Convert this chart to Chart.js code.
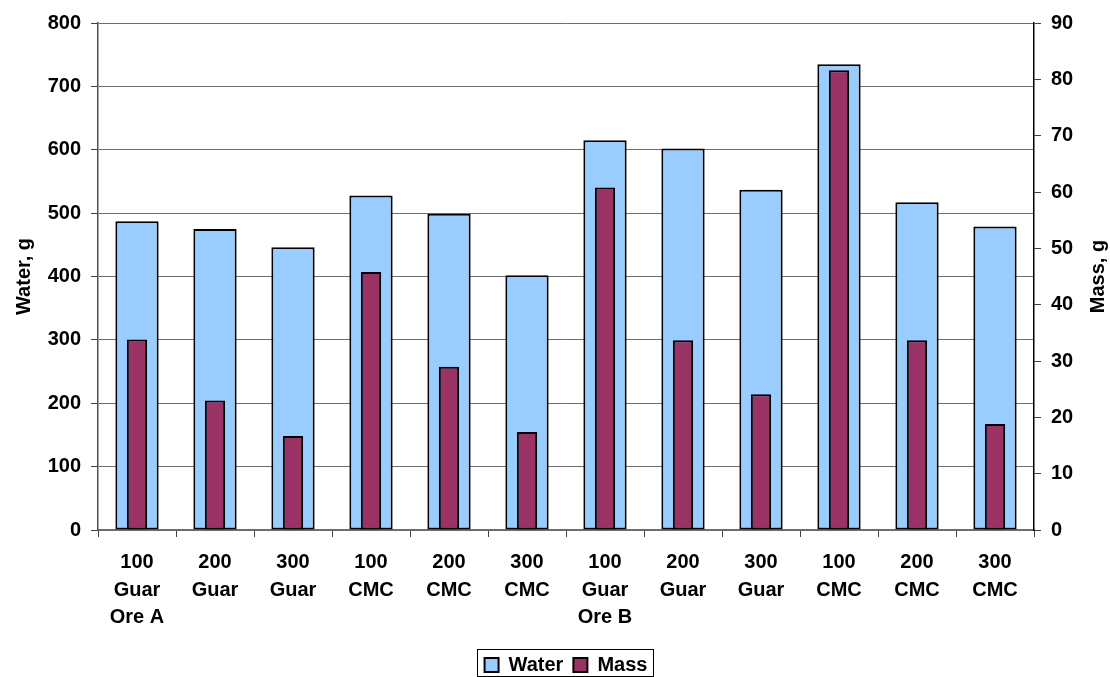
<!DOCTYPE html>
<html>
<head>
<meta charset="utf-8">
<title>Water and Mass</title>
<script src="https://cdn.jsdelivr.net/npm/chart.js@4/dist/chart.umd.min.js"></script>
<style>
  html, body { margin: 0; padding: 0; background: #ffffff; }
  canvas { display: block; }
</style>
</head>
<body>
<canvas id="chart" width="1110" height="677"></canvas>
<script>
// Category labels (one array entry per line of the label)
const categories = [
  ["100", "Guar", "Ore A"], ["200", "Guar"], ["300", "Guar"],
  ["100", "CMC"], ["200", "CMC"], ["300", "CMC"],
  ["100", "Guar", "Ore B"], ["200", "Guar"], ["300", "Guar"],
  ["100", "CMC"], ["200", "CMC"], ["300", "CMC"]
];

// Series values
const waterValues = [487, 475, 446, 528, 499, 402, 615, 602, 537, 735, 517, 479];
const massValues  = [33.8, 23.0, 16.7, 45.8, 29.0, 17.4, 60.8, 33.7, 24.1, 81.6, 33.7, 18.8];

// Axis ranges and tick steps
const waterAxis = [0, 800, 100];
const massAxis  = [0, 90, 10];

// Axis titles
const waterTitle = "Water, g";
const massTitle  = "Mass, g";

const FONT = "'Liberation Sans', Arial, Helvetica, sans-serif";

// Frames the legend and writes the right-hand axis title (reading upward)
const decorations = {
  id: 'decorations',
  afterDraw(chart) {
    const ctx = chart.ctx;
    const boxes = chart.legend && chart.legend.legendHitBoxes;
    if (boxes && boxes.length) {
      const first = boxes[0];
      const last = boxes[boxes.length - 1];
      const x0 = Math.round(first.left) - 7.5;
      const x1 = Math.round(last.left + last.width) + 6.5;
      const cy = first.top + first.height / 2;
      ctx.save();
      ctx.strokeStyle = '#000000';
      ctx.lineWidth = 1;
      ctx.strokeRect(x0, Math.round(cy - 16) + 0.5, x1 - x0, 27);
      ctx.restore();
    }
    ctx.save();
    ctx.translate(1098, (chart.chartArea.top + chart.chartArea.bottom) / 2);
    ctx.rotate(-Math.PI / 2);
    ctx.font = "bold 20px " + FONT;
    ctx.fillStyle = '#000000';
    ctx.textAlign = 'center';
    ctx.textBaseline = 'middle';
    ctx.fillText(massTitle, 0, 0);
    ctx.restore();
  }
};

new Chart(document.getElementById('chart'), {
  type: 'bar',
  data: {
    labels: categories,
    datasets: [
      {
        label: 'Water',
        data: waterValues,
        yAxisID: 'y',
        backgroundColor: '#99CCFF',
        borderColor: '#000000',
        borderWidth: 2,
        borderSkipped: false,
        grouped: false,
        barPercentage: 0.555,
        categoryPercentage: 1,
        order: 1
      },
      {
        label: 'Mass',
        data: massValues,
        yAxisID: 'y1',
        backgroundColor: '#993366',
        borderColor: '#000000',
        borderWidth: 2,
        borderSkipped: false,
        grouped: false,
        barPercentage: 0.26,
        categoryPercentage: 1,
        order: 0
      }
    ]
  },
  options: {
    responsive: false,
    animation: false,
    devicePixelRatio: 1,
    layout: { padding: { top: 23, left: 0, right: 0, bottom: -8 } },
    plugins: {
      tooltip: { enabled: false },
      legend: {
        position: 'bottom',
        fullSize: false,
        reverse: true,
        labels: {
          color: '#000000',
          font: { family: FONT, size: 20, weight: 'bold' },
          boxWidth: 14,
          boxHeight: 14,
          padding: 10
        }
      }
    },
    scales: {
      x: {
        offset: true,
        grid: {
          offset: true,
          drawOnChartArea: false,
          drawTicks: true,
          tickLength: 7,
          tickColor: '#404040',
          tickWidth: 1
        },
        border: { display: true, color: '#6e6e6e', width: 1.5 },
        ticks: {
          color: '#000000',
          padding: 12,
          maxRotation: 0,
          autoSkip: false,
          font: { family: FONT, size: 20, weight: 'bold', lineHeight: 1.375 }
        },
        afterFit(scale) { scale.height = 115; }
      },
      y: {
        position: 'left',
        min: waterAxis[0],
        max: waterAxis[1],
        ticks: {
          stepSize: waterAxis[2],
          color: '#000000',
          padding: 10,
          font: { family: FONT, size: 20, weight: 'bold' }
        },
        grid: {
          color: '#6e6e6e',
          lineWidth: 1,
          drawTicks: true,
          tickLength: 7,
          tickColor: '#404040'
        },
        border: { display: true, color: '#505050', width: 1.5 },
        title: {
          display: true,
          text: waterTitle,
          color: '#000000',
          font: { family: FONT, size: 20, weight: 'bold' },
          padding: { top: 12, bottom: 0 }
        },
        afterFit(scale) { scale.width = 98; }
      },
      y1: {
        position: 'right',
        min: massAxis[0],
        max: massAxis[1],
        ticks: {
          stepSize: massAxis[2],
          color: '#000000',
          padding: 10,
          font: { family: FONT, size: 20, weight: 'bold' }
        },
        grid: {
          drawOnChartArea: false,
          drawTicks: true,
          tickLength: 7,
          tickColor: '#404040'
        },
        border: { display: true, color: '#000000', width: 1.5 },
        afterFit(scale) { scale.width = 76; }
      }
    }
  },
  plugins: [decorations]
});
</script>
</body>
</html>
